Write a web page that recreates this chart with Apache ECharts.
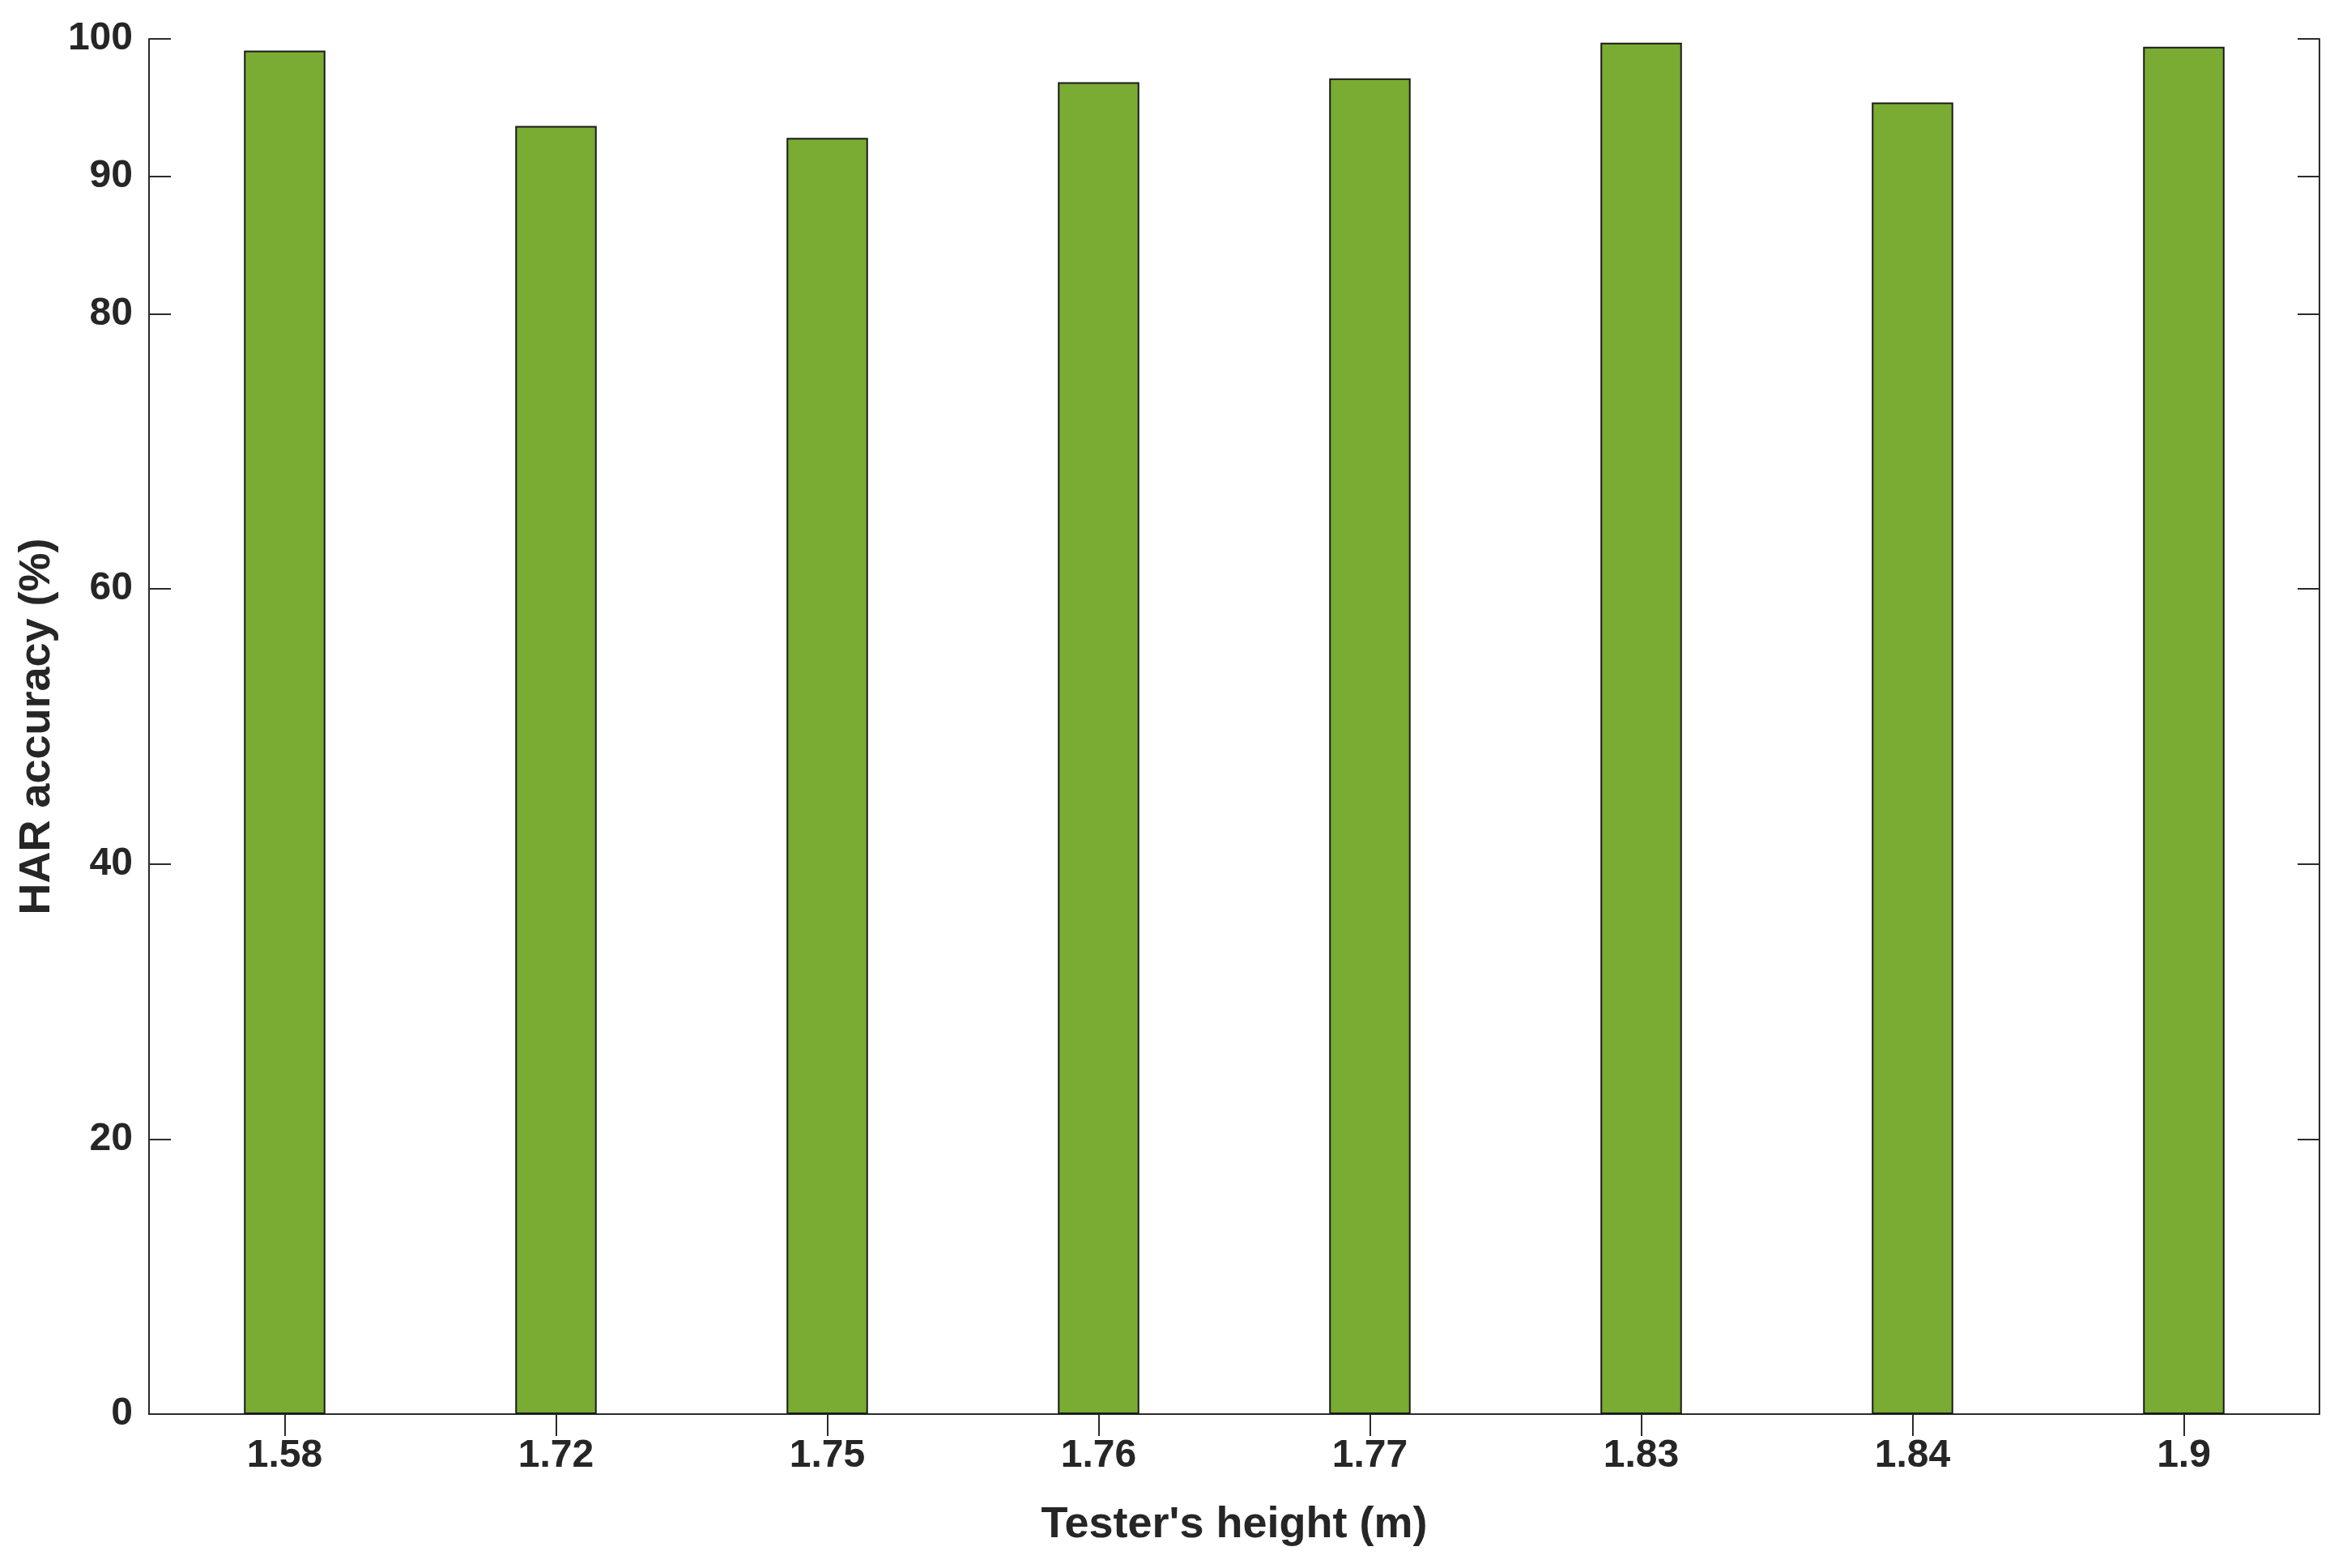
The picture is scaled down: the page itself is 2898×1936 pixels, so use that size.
<!DOCTYPE html>
<html>
<head>
<meta charset="utf-8">
<script src="https://cdn.jsdelivr.net/npm/echarts@6/dist/echarts.min.js"></script>
<style>
html,body{margin:0;padding:0;background:#fff;}
#chart{width:2898px;height:1936px;}
</style>
</head>
<body>
<div id="chart"></div>
<script>
const categories = ['1.58', '1.72', '1.75', '1.76', '1.77', '1.83', '1.84', '1.9'];
const accuracy = [99.15, 93.67, 92.80, 96.85, 97.13, 99.72, 95.38, 99.42];
const yTickValues = [0, 20, 40, 60, 80, 90, 100];
const xTitle = "Tester's height (m)";
const yTitle = 'HAR accuracy (%)';

const FONT = '"Liberation Sans", Arial, Helvetica, sans-serif';
const TXT = '#262626';
const LINE = '#2b2b2b';

const chart = echarts.init(document.getElementById('chart'), null, {renderer: 'canvas'});
chart.setOption({
  backgroundColor: '#ffffff',
  animation: false,
  grid: {left: 184, right: 34, top: 48, bottom: 190, containLabel: false},
  xAxis: [{
    type: 'category',
    data: categories,
    position: 'bottom',
    boundaryGap: true,
    axisLine: {show: true, lineStyle: {color: LINE, width: 2}},
    axisTick: {show: true, inside: true, alignWithLabel: true, length: 27, lineStyle: {color: LINE, width: 2}},
    axisLabel: {show: true, margin: 28, color: TXT, fontFamily: FONT, fontWeight: 'bold', fontSize: 48},
    splitLine: {show: false},
    name: xTitle,
    nameLocation: 'middle',
    nameGap: 110,
    nameTextStyle: {color: TXT, fontFamily: FONT, fontWeight: 'bold', fontSize: 54}
  }, {
    type: 'category',
    data: categories,
    position: 'top',
    boundaryGap: true,
    axisLine: {show: true, lineStyle: {color: LINE, width: 2}},
    axisTick: {show: true, inside: true, alignWithLabel: true, length: 27, lineStyle: {color: LINE, width: 2}},
    axisLabel: {show: false},
    splitLine: {show: false}
  }],
  yAxis: [{
    type: 'value',
    min: 0,
    max: 100,
    interval: 10,
    position: 'left',
    axisLine: {show: true, lineStyle: {color: LINE, width: 2}},
    axisTick: {show: true, inside: true, length: 27, customValues: yTickValues, lineStyle: {color: LINE, width: 2}},
    axisLabel: {show: true, margin: 20, customValues: yTickValues, color: TXT, fontFamily: FONT, fontWeight: 'bold', fontSize: 48},
    splitLine: {show: false},
    name: yTitle,
    nameLocation: 'middle',
    nameGap: 93,
    nameRotate: 90,
    nameTextStyle: {color: TXT, fontFamily: FONT, fontWeight: 'bold', fontSize: 54}
  }, {
    type: 'value',
    min: 0,
    max: 100,
    interval: 10,
    position: 'right',
    axisLine: {show: true, lineStyle: {color: LINE, width: 2}},
    axisTick: {show: true, inside: true, length: 27, customValues: yTickValues, lineStyle: {color: LINE, width: 2}},
    axisLabel: {show: false},
    splitLine: {show: false}
  }],
  series: [{
    type: 'bar',
    data: accuracy,
    xAxisIndex: 0,
    yAxisIndex: 0,
    barWidth: '30%',
    itemStyle: {color: '#7AAB32', borderColor: '#1a1a1a', borderWidth: 2},
    z: 3
  }]
});
</script>
</body>
</html>
